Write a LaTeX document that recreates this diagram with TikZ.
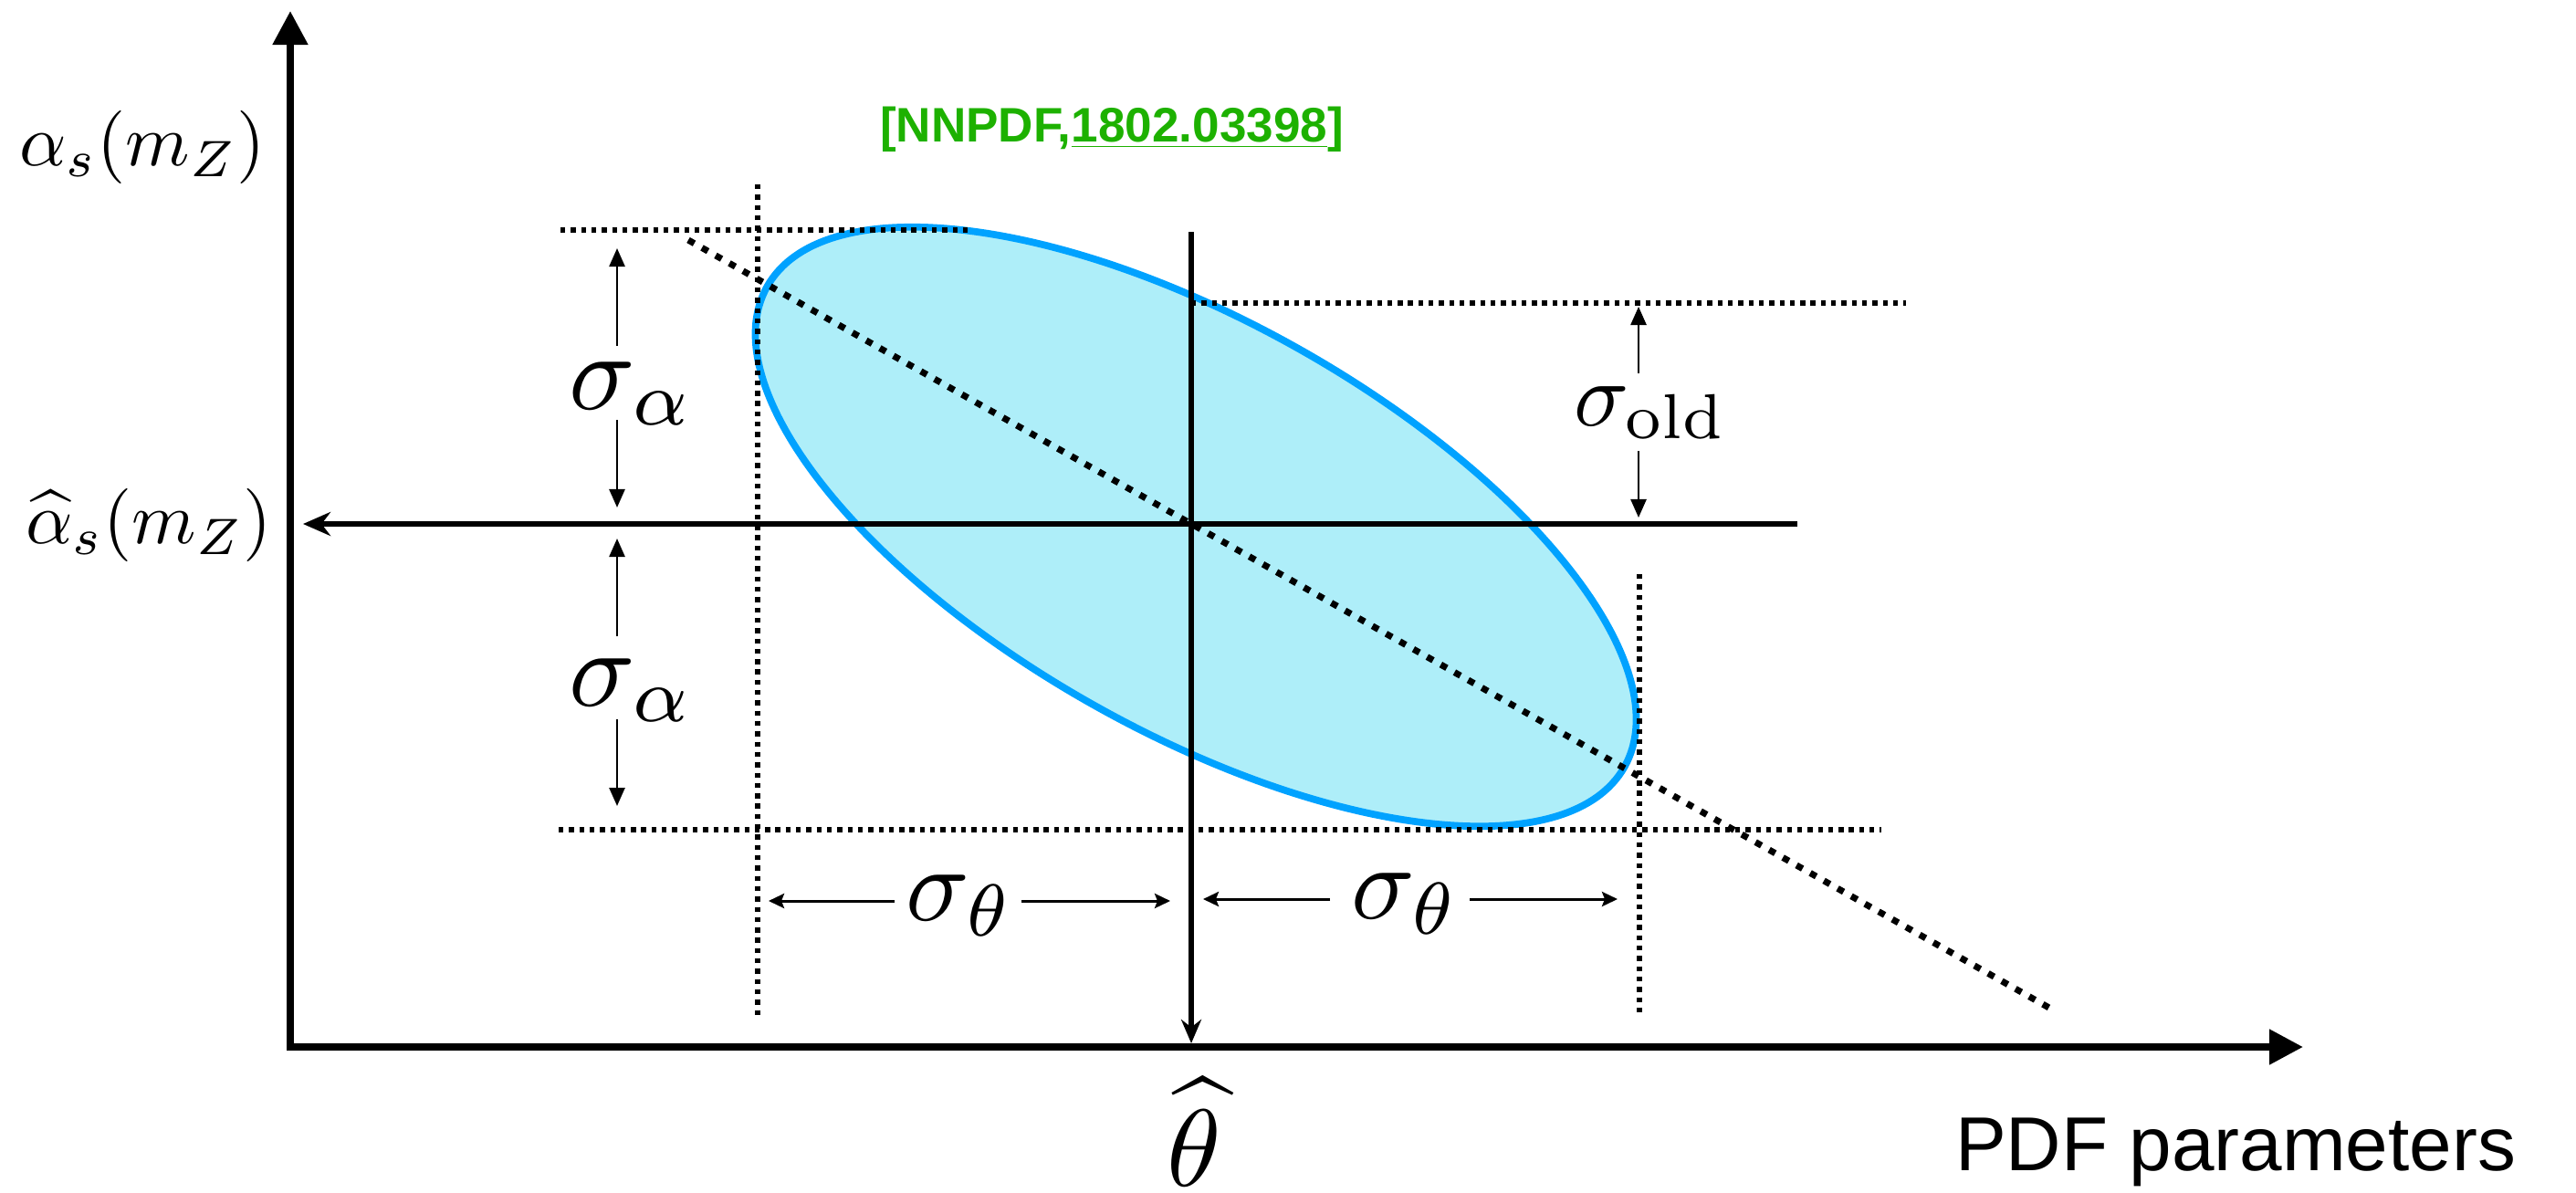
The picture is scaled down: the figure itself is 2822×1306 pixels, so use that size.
\documentclass[tikz,border=0pt]{standalone}
\usepackage{fontspec}
\newfontfamily\lsans{Liberation Sans}
\usetikzlibrary{arrows.meta}
\definecolor{ellblue}{RGB}{0,162,255}
\definecolor{ellfill}{RGB}{174,238,249}
\definecolor{refgreen}{RGB}{29,177,0}
\begin{document}
\begin{tikzpicture}[x=0.01cm, y=-0.01cm,
  axis/.style={line width=2.28pt, -{Triangle[length=0.37cm,width=0.37cm]}},
  mainline/.style={line width=1.56pt},
  thindot/.style={line width=1.5pt, dash pattern=on 0.054cm off 0.059cm},
  thickdot/.style={line width=2pt, dash pattern=on 0.075cm off 0.097cm},
  sarrow/.style={line width=0.7pt, -{Triangle[length=0.2cm,width=0.17cm]}},
  tarrow/.style={line width=0.85pt, -{Stealth[length=0.17cm,width=0.16cm,inset=0.03cm]}},
  mathlbl/.style={inner sep=0pt, anchor=base},
]
\useasboundingbox (0,0) rectangle (2822,1306);

% ellipse
\filldraw[fill=ellfill, draw=ellblue, line width=2.2pt, rotate around={-29.24:(1310,577)}]
  (1310,577) ellipse [x radius=5.38cm, y radius=2.25cm];

% axes
\coordinate (yO) at (318,1151); \coordinate (yT) at (318,12);
\coordinate (xO) at (314,1147); \coordinate (xT) at (2523,1147);
\draw[axis] (yO) -- (yT);
\draw[axis] (xO) -- (xT);

% thin dotted guides
\coordinate (tlA) at (614,252);  \coordinate (tlB) at (1063,252);
\coordinate (lvA) at (830,202);  \coordinate (lvB) at (830,1116);
\coordinate (trA) at (1305,332); \coordinate (trB) at (2088,332);
\coordinate (bA) at (612,909);   \coordinate (bB) at (2061,909);
\coordinate (rvA) at (1796,629); \coordinate (rvB) at (1796,1112);
\draw[thindot] (tlA) -- (tlB);
\draw[thindot] (lvA) -- (lvB);
\draw[thindot] (trA) -- (trB);
\draw[thindot] (bA) -- (bB);
\draw[thindot] (rvA) -- (rvB);

% diagonal thick dotted
\coordinate (dA) at (754,263); \coordinate (dB) at (2250,1107);
\draw[thickdot] (dA) -- (dB);

% central lines
\coordinate (hR) at (1969,574); \coordinate (hL) at (332,574);
\draw[mainline, -{Stealth[length=0.3cm,width=0.26cm]}] (hR) -- (hL);
\coordinate (vT) at (1305,254); \coordinate (vB) at (1305,1143);
\draw[mainline, -{Stealth[length=0.26cm,width=0.22cm]}] (vT) -- (vB);

% labels
\node[mathlbl, scale=2.28] (as) at (156,181) {$\alpha_s(m_Z)$};
\node[mathlbl, scale=2.28] (ash) at (163,595) {$\widehat{\alpha}_s(m_Z)$};
\node[mathlbl, scale=3.41] (sa1) at (692,448) {$\sigma_\alpha$};
\node[mathlbl, scale=3.41] (sa2) at (692,773) {$\sigma_\alpha$};
\node[mathlbl, scale=2.83] (so) at (1808,466) {$\sigma_{\mathrm{old}}$};
\node[mathlbl, scale=3.28] (st1) at (1052,1008) {$\sigma_\theta$};
\node[mathlbl, scale=3.28] (st2) at (1540,1006) {$\sigma_\theta$};
\node[mathlbl, scale=3.41] (th) at (1308,1299) {$\widehat{\theta}$};
\node[inner sep=0pt, anchor=base, font=\lsans\fontsize{23.8}{28}\selectfont] (pdf) at (2449,1282) {PDF parameters};
\node[inner sep=0pt, anchor=base, font=\lsans\bfseries\fontsize{15.1}{18}\selectfont, text=refgreen] (ref) at (1218,155) {[NNPDF,\underline{1802.03398}]};

% sigma_alpha arrows
\coordinate (a1s) at (676,379); \coordinate (a1t) at (676,272);
\coordinate (a2s) at (676,460); \coordinate (a2t) at (676,556);
\coordinate (a3s) at (676,697); \coordinate (a3t) at (676,590);
\coordinate (a4s) at (676,788); \coordinate (a4t) at (676,883);
\draw[sarrow] (a1s) -- (a1t);
\draw[sarrow] (a2s) -- (a2t);
\draw[sarrow] (a3s) -- (a3t);
\draw[sarrow] (a4s) -- (a4t);

% sigma_old arrows
\coordinate (o1s) at (1795,409); \coordinate (o1t) at (1795,336);
\coordinate (o2s) at (1795,494); \coordinate (o2t) at (1795,567);
\draw[sarrow] (o1s) -- (o1t);
\draw[sarrow] (o2s) -- (o2t);

% sigma_theta arrows
\coordinate (t1s) at (980,987);  \coordinate (t1t) at (842,987);
\coordinate (t2s) at (1119,987); \coordinate (t2t) at (1282,987);
\coordinate (t3s) at (1457,985); \coordinate (t3t) at (1318,985);
\coordinate (t4s) at (1610,985); \coordinate (t4t) at (1772,985);
\draw[tarrow] (t1s) -- (t1t);
\draw[tarrow] (t2s) -- (t2t);
\draw[tarrow] (t3s) -- (t3t);
\draw[tarrow] (t4s) -- (t4t);
\end{tikzpicture}
\end{document}
